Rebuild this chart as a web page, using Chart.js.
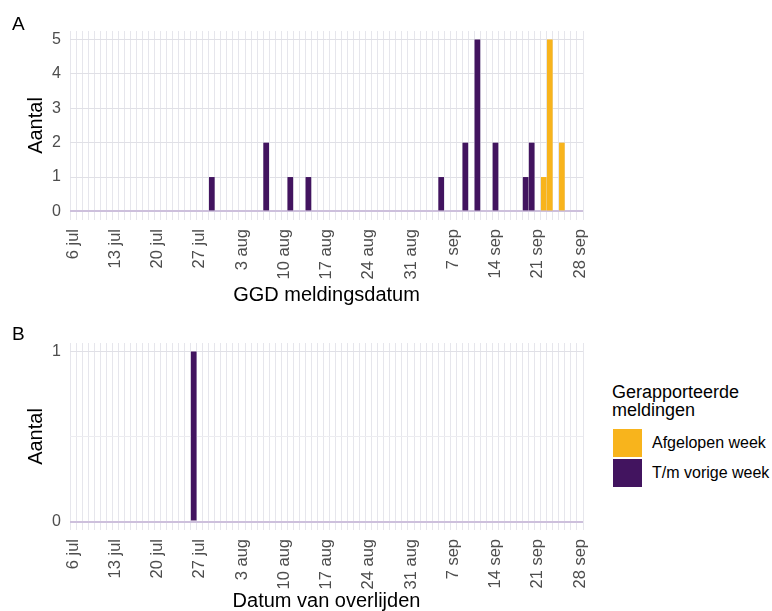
<!DOCTYPE html>
<html lang="nl">
<head>
<meta charset="utf-8">
<title>Meldingen en overlijden</title>
<script src="https://cdn.jsdelivr.net/npm/chart.js@4.4.1/dist/chart.umd.min.js"></script>
<style>
  body { margin: 0; background: #ffffff; font-family: "Liberation Sans", Arial, sans-serif; }
  #page { position: relative; width: 772px; height: 611px; overflow: hidden; background: #ffffff; }
  .panel { position: absolute; left: 0; width: 600px; }
  #panelA { top: 0; height: 310px; }
  #panelB { top: 310px; height: 301px; }
  .letter { position: absolute; left: 12px; font-size: 19px; line-height: 19px; color: #000; }
  #legend { position: absolute; left: 612px; top: 383px; color: #000; }
  #legend .titel { font-size: 18px; line-height: 18px; margin-bottom: 10px; }
  #legend .item { position: relative; height: 29px; margin-bottom: 1px; }
  #legend .box { position: absolute; left: 1px; top: 0; width: 29px; height: 28px; }
  #legend .label { position: absolute; left: 40px; top: 5px; font-size: 16px; line-height: 18px; white-space: nowrap; }
</style>
</head>
<body>
<div id="page">
  <div class="panel" id="panelA"><canvas id="grafiekA"></canvas></div>
  <div class="panel" id="panelB"><canvas id="grafiekB"></canvas></div>
  <div class="letter" style="top:14px">A</div>
  <div class="letter" style="top:324px">B</div>
  <div id="legend">
    <div class="titel">Gerapporteerde<br>meldingen</div>
    <div class="item"><div class="box" style="background:#f8b41c"></div><div class="label">Afgelopen week</div></div>
    <div class="item"><div class="box" style="background:#42145f"></div><div class="label">T/m vorige week</div></div>
  </div>
</div>
<script>
// ========== DATA ==========
const maanden = ['jan', 'feb', 'mrt', 'apr', 'mei', 'jun', 'jul', 'aug', 'sep', 'okt', 'nov', 'dec'];
const xTickLabels = ['6 jul', '13 jul', '20 jul', '27 jul', '3 aug', '10 aug', '17 aug', '24 aug', '31 aug', '7 sep', '14 sep', '21 sep', '28 sep'];
const yTicksA = [0, 1, 2, 3, 4, 5];
const yTicksB = [0, 1];

// GGD meldingsdatum (panel A)
const vorigeWeekDatum = ['29 jul', '7 aug', '11 aug', '14 aug', '5 sep', '9 sep', '11 sep', '14 sep', '19 sep', '20 sep'];
const vorigeWeekAantal = [1, 2, 1, 1, 1, 2, 5, 2, 1, 2];
const afgelopenWeekDatum = ['22 sep', '23 sep', '25 sep'];
const afgelopenWeekAantal = [1, 5, 2];

// Datum van overlijden (panel B)
const overlijdenDatum = ['26 jul'];
const overlijdenAantal = [1];

const kleurAfgelopen = '#f8b41c';
const kleurVorige = '#42145f';

// alle dagen van 6 jul t/m 28 sep
const dagen = [];
for (let i = 0; i < 85; i++) {
    const d = new Date(Date.UTC(2020, 6, 6) + i * 86400000);
    dagen.push(d.getUTCDate() + ' ' + maanden[d.getUTCMonth()]);
}

// reeks per dag opbouwen
function perDag(datums, aantallen) {
    return dagen.map(dag => {
        const i = datums.indexOf(dag);
        return i < 0 ? null : aantallen[i];
    });
}

// hoofdlijnen op de ticks, hulplijnen halverwege
function rasterWaarden(ticks) {
    const waarden = [];
    ticks.forEach((t, i) => {
        waarden.push(t);
        if (i < ticks.length - 1) waarden.push((t + ticks[i + 1]) / 2);
    });
    return waarden;
}

Chart.defaults.font.family = '"Liberation Sans", Arial, sans-serif';

function opties(yMin, yMax, yTicks, padTop, xHoogte, xTitel, titelPad) {
    return {
        responsive: true,
        maintainAspectRatio: false,
        animation: false,
        layout: { padding: { top: padTop, right: 17, left: 0, bottom: 0 } },
        plugins: {
            legend: { display: false },
            tooltip: { enabled: false }
        },
        datasets: {
            bar: { barPercentage: 1, categoryPercentage: 0.94 }
        },
        scales: {
            x: {
                stacked: true,
                afterFit: (scale) => {
                    scale.height = xHoogte;
                    scale.paddingLeft = 0;
                    scale.paddingRight = 0;
                },
                border: { display: false },
                grid: { color: '#e6e6ec', lineWidth: 1, drawTicks: false },
                ticks: {
                    autoSkip: false,
                    maxRotation: 90,
                    minRotation: 90,
                    padding: 9,
                    color: '#4d4d4d',
                    font: { size: 16.5 },
                    callback: (val, idx) => xTickLabels.includes(dagen[idx]) ? dagen[idx] : ''
                },
                title: {
                    display: true,
                    text: xTitel,
                    color: '#000',
                    font: { size: 20, lineHeight: 1 },
                    padding: { top: 0, bottom: titelPad }
                }
            },
            y: {
                stacked: true,
                min: yMin,
                max: yMax,
                bounds: 'data',
                afterFit: (scale) => { scale.width = 70; },
                afterBuildTicks: (scale) => {
                    scale.ticks = rasterWaarden(yTicks).map(v => ({ value: v }));
                },
                border: { display: false },
                grid: {
                    drawTicks: false,
                    color: (c) => c.tick.value === 0 ? '#cdc0dc' : (yTicks.includes(c.tick.value) ? '#e0e0e6' : '#ececf0'),
                    lineWidth: (c) => c.tick.value === 0 ? 2 : 1
                },
                ticks: {
                    padding: 9,
                    color: '#4d4d4d',
                    font: { size: 16 },
                    callback: (v) => yTicks.includes(v) ? v : ''
                },
                title: {
                    display: true,
                    text: 'Aantal',
                    color: '#000',
                    font: { size: 20, lineHeight: 1 },
                    padding: { top: 26, bottom: 0 }
                }
            }
        }
    };
}

// ========== GRAFIEK A ==========
let grafiekA = new Chart(document.getElementById('grafiekA'), {
    type: 'bar',
    data: {
        labels: dagen,
        datasets: [
            { label: 'Afgelopen week', data: perDag(afgelopenWeekDatum, afgelopenWeekAantal), backgroundColor: kleurAfgelopen },
            { label: 'T/m vorige week', data: perDag(vorigeWeekDatum, vorigeWeekAantal), backgroundColor: kleurVorige }
        ]
    },
    options: opties(-0.25, 5.25, yTicksA, 31, 90, 'GGD meldingsdatum', 5)
});

// ========== GRAFIEK B ==========
let grafiekB = new Chart(document.getElementById('grafiekB'), {
    type: 'bar',
    data: {
        labels: dagen,
        datasets: [
            { label: 'T/m vorige week', data: perDag(overlijdenDatum, overlijdenAantal), backgroundColor: kleurVorige }
        ]
    },
    options: opties(-0.05, 1.05, yTicksB, 33, 81, 'Datum van overlijden', 0)
});
</script>
</body>
</html>
